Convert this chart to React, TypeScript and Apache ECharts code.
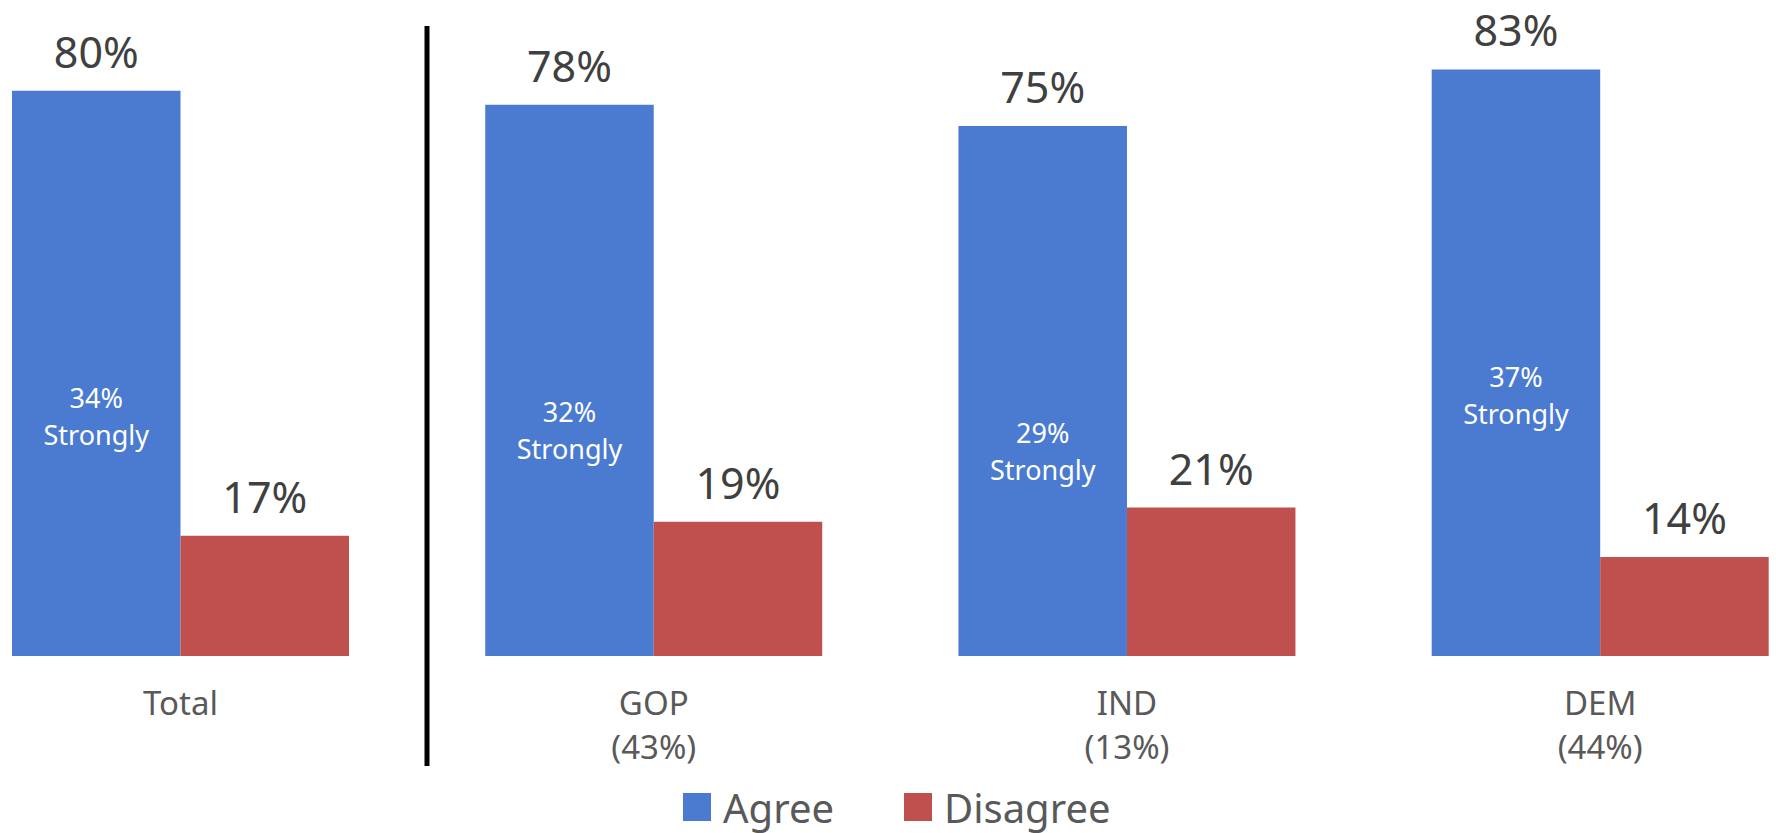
import React, { useEffect, useRef } from "react";
import * as echarts from "echarts";

const categories = ["Total", "GOP\n(43%)", "IND\n(13%)", "DEM\n(44%)"];
const agree = [80, 78, 75, 83];
const disagree = [17, 19, 21, 14];
const strongly = [34, 32, 29, 37];
const seriesNames = ["Agree", "Disagree"];

const FONT = "'Noto Sans', 'Open Sans', sans-serif";
const BAR_W = 168.5;
const BLUE = "#4A7BD0";
const RED = "#C0504D";

export default function App() {
  const ref = useRef<HTMLDivElement>(null);
  useEffect(() => {
    if (!ref.current) return;
    const chart = echarts.init(ref.current, null, { renderer: "svg" });
    chart.setOption({
      animation: false,
      backgroundColor: "#ffffff",
      textStyle: { fontFamily: FONT },
      grid: { left: 180.5, width: 1419.7, top: 20, height: 636 },
      legend: {
        data: seriesNames,
        left: 678,
        top: 782,
        itemWidth: 28,
        itemHeight: 28,
        itemGap: 70,
        icon: "rect",
        textStyle: {
          fontSize: 40,
          lineHeight: 40,
          color: "#595959",
          fontFamily: FONT,
          padding: [0, 0, 0, 7],
        },
      },
      xAxis: {
        type: "category",
        data: categories,
        boundaryGap: false,
        axisLine: { show: false },
        axisTick: { show: false },
        splitLine: { show: false },
        axisLabel: {
          fontSize: 33,
          lineHeight: 44,
          color: "#595959",
          margin: 24,
          fontFamily: FONT,
          interval: 0,
        },
      },
      yAxis: {
        type: "value",
        min: 0,
        max: 90,
        show: false,
        splitLine: { show: false },
      },
      series: [
        {
          name: "Agree",
          type: "bar",
          data: agree,
          barWidth: BAR_W,
          barGap: "0%",
          itemStyle: { color: BLUE },
          label: {
            show: true,
            position: "top",
            distance: 18,
            formatter: "{c}%",
            fontSize: 43,
            color: "#404040",
            fontFamily: FONT,
          },
        },
        {
          name: "Disagree",
          type: "bar",
          data: disagree,
          barWidth: BAR_W,
          barGap: "0%",
          itemStyle: { color: RED },
          label: {
            show: true,
            position: "top",
            distance: 18,
            formatter: "{c}%",
            fontSize: 43,
            color: "#404040",
            fontFamily: FONT,
          },
        },
        {
          name: "Strongly",
          type: "custom",
          z: 10,
          encode: { x: 0, y: 1 },
          data: strongly.map((v, i) => [i, v]),
          silent: true,
          renderItem: (params: any, api: any) => {
            const pt = api.coord([api.value(0), api.value(1)]);
            const v = strongly[params.dataIndex];
            return {
              type: "text",
              x: pt[0] - BAR_W / 2,
              y: pt[1],
              z2: 100,
              style: {
                text: v + "%\nStrongly",
                fill: "#ffffff",
                fontSize: 27,
                fontFamily: FONT,
                lineHeight: 37,
                align: "center",
                verticalAlign: "middle",
              },
            };
          },
        },
      ],
      graphic: [
        {
          type: "line",
          shape: { x1: 427, y1: 26, x2: 427, y2: 766 },
          style: { stroke: "#000000", lineWidth: 5 },
        },
      ],
    });
    return () => chart.dispose();
  }, []);
  return (
    <div
      ref={ref}
      style={{ position: "fixed", left: 0, top: 0, width: 1776, height: 833 }}
    />
  );
}
